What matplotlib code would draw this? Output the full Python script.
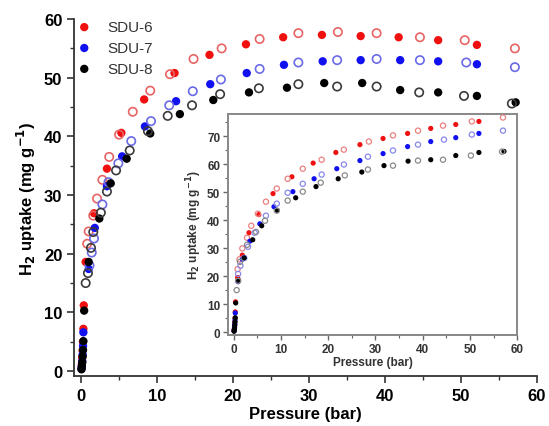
import matplotlib
matplotlib.use("Agg")
import matplotlib.pyplot as plt
from matplotlib.ticker import MultipleLocator

plt.rcParams['font.family'] = ['Liberation Sans', 'DejaVu Sans']

# === DATA: main plot (adsorption = filled, desorption = hollow) ===
labels = ["SDU-6", "SDU-7", "SDU-8"]

sdu6_ads_p = [0.05, 0.1, 0.15, 0.2, 0.25, 0.3, 0.35, 0.6, 1.7, 3.4, 5.3, 8.3, 12.3, 16.9, 21.7, 26.6, 31.7, 36.8, 41.8, 47.0, 52.1]
sdu6_ads_q = [0.5, 1.2, 2.3, 3.5, 5.0, 7.2, 11.2, 18.6, 26.9, 34.5, 40.6, 46.3, 50.8, 53.9, 55.7, 56.9, 57.3, 57.1, 56.9, 56.4, 55.6]
sdu6_des_p = [57.1, 50.5, 44.6, 38.9, 33.8, 28.6, 23.5, 18.5, 14.8, 11.7, 9.1, 6.8, 5.0, 3.7, 2.8, 2.1, 1.6, 1.0, 0.8]
sdu6_des_q = [55.0, 56.4, 56.9, 57.6, 57.8, 57.6, 56.6, 55.0, 53.2, 50.6, 47.8, 44.2, 40.3, 36.5, 32.6, 29.4, 26.5, 23.8, 21.7]

sdu7_ads_p = [0.05, 0.1, 0.15, 0.2, 0.25, 0.3, 1.0, 1.8, 3.4, 5.4, 8.4, 12.5, 17.0, 21.8, 26.7, 31.8, 36.8, 42.0, 47.0, 52.1]
sdu7_ads_q = [0.4, 0.9, 1.7, 2.8, 4.3, 6.6, 17.4, 24.4, 31.5, 36.6, 41.7, 46.0, 48.9, 50.8, 52.2, 52.8, 53.0, 53.0, 52.8, 52.3]
sdu7_des_p = [57.1, 50.7, 44.6, 38.9, 33.7, 28.6, 23.5, 18.4, 14.7, 11.6, 9.2, 6.6, 4.9, 3.6, 2.8, 1.7, 1.4, 1.1]
sdu7_des_q = [51.8, 52.6, 53.0, 53.2, 53.0, 52.6, 51.5, 49.7, 47.7, 45.3, 42.6, 39.2, 35.4, 32.2, 28.4, 22.6, 20.2, 18.0]

sdu8_ads_p = [0.05, 0.1, 0.15, 0.2, 0.25, 0.3, 0.4, 1.0, 2.4, 3.9, 6.0, 9.1, 13.0, 17.4, 22.1, 27.1, 32.0, 37.0, 42.0, 47.0, 52.1, 57.2]
sdu8_ads_q = [0.3, 0.8, 1.5, 2.5, 3.6, 5.1, 10.3, 18.6, 26.0, 32.0, 36.2, 40.5, 43.8, 46.2, 47.5, 48.3, 49.1, 49.1, 47.9, 47.5, 46.9, 45.8]
sdu8_des_p = [56.7, 50.4, 44.5, 38.9, 33.7, 28.6, 23.4, 18.3, 14.6, 11.4, 8.8, 6.4, 4.6, 3.4, 2.6, 1.6, 1.3, 0.9, 0.6]
sdu8_des_q = [45.6, 46.9, 47.5, 48.5, 48.5, 48.9, 48.2, 47.2, 45.3, 43.5, 40.9, 37.6, 34.2, 30.6, 27.0, 23.7, 21.0, 16.7, 15.0]

# === DATA: inset ===
in6_ads_p = [0.05, 0.1, 0.15, 0.2, 0.25, 0.3, 0.35, 0.8, 1.8, 3.2, 5.3, 8.3, 12.3, 16.8, 21.6, 26.7, 31.6, 36.8, 41.7, 47.0, 51.9]
in6_ads_q = [0.5, 1.2, 2.3, 3.5, 5.0, 7.2, 10.8, 19.5, 27.5, 35.5, 42.0, 49.5, 55.5, 60.4, 64.2, 67.0, 69.2, 71.0, 72.8, 74.2, 75.3]
in6_des_p = [57.0, 50.4, 44.3, 39.0, 33.7, 28.6, 23.3, 18.6, 14.6, 11.4, 9.1, 6.8, 5.1, 3.7, 2.8, 1.8, 1.2, 0.8]
in6_des_q = [76.7, 75.3, 73.8, 72.0, 70.3, 68.1, 65.2, 61.6, 58.4, 54.8, 51.3, 46.6, 42.3, 38.0, 33.7, 29.9, 26.0, 22.5]

in7_ads_p = [0.05, 0.1, 0.15, 0.2, 0.25, 0.3, 0.9, 1.8, 3.4, 5.5, 8.5, 12.5, 17.0, 21.8, 26.7, 31.6, 36.8, 41.7, 47.0, 51.9]
in7_ads_q = [0.4, 0.9, 1.7, 2.8, 4.3, 6.8, 18.0, 26.0, 32.5, 38.7, 44.8, 50.2, 54.8, 58.4, 61.3, 63.8, 66.3, 68.1, 69.5, 71.0]
in7_des_p = [57.0, 50.4, 44.5, 39.0, 33.7, 28.4, 23.3, 18.6, 14.6, 11.4, 9.1, 6.8, 4.4, 3.0, 2.2, 1.4, 0.9]
in7_des_q = [72.0, 70.6, 68.8, 67.0, 64.9, 62.7, 59.9, 56.3, 53.0, 49.8, 45.9, 41.6, 35.5, 30.5, 26.5, 23.7, 20.8]

in8_ads_p = [0.05, 0.1, 0.15, 0.2, 0.25, 0.3, 0.4, 1.0, 2.2, 4.0, 5.9, 9.2, 13.1, 17.4, 22.1, 27.1, 31.8, 36.9, 41.7, 47.0, 51.9, 57.2]
in8_ads_q = [0.3, 0.8, 1.5, 2.5, 3.6, 5.1, 10.4, 18.5, 26.5, 33.0, 38.0, 43.5, 48.0, 52.0, 54.8, 57.2, 59.5, 61.1, 61.6, 63.1, 64.2, 64.6]
in8_des_p = [56.8, 50.2, 44.3, 39.0, 33.7, 28.4, 23.5, 18.4, 14.6, 11.4, 9.1, 6.6, 4.7, 2.8, 1.3, 0.9, 0.6]
in8_des_q = [64.5, 63.1, 61.6, 61.3, 59.5, 58.1, 56.0, 53.4, 50.2, 47.0, 43.4, 39.8, 35.8, 31.2, 25.1, 18.3, 15.0]

# === STYLE ===
FILL_COLORS = ["#f01010", "#1010f0", "#000000"]
OPEN_COLORS = ["#e86464", "#6a6ae6", "#3a3a3a"]
INSET_OPEN = ["#ec8080", "#8888ec", "#8a8a8a"]

main_sets = [
    (sdu6_ads_p, sdu6_ads_q, sdu6_des_p, sdu6_des_q),
    (sdu7_ads_p, sdu7_ads_q, sdu7_des_p, sdu7_des_q),
    (sdu8_ads_p, sdu8_ads_q, sdu8_des_p, sdu8_des_q),
]
inset_sets = [
    (in6_ads_p, in6_ads_q, in6_des_p, in6_des_q),
    (in7_ads_p, in7_ads_q, in7_des_p, in7_des_q),
    (in8_ads_p, in8_ads_q, in8_des_p, in8_des_q),
]

fig = plt.figure(figsize=(5.49, 4.27), dpi=100)

# === MAIN AXES ===
ax = fig.add_axes([0.135, 0.117, 0.843, 0.836])
for i, (ap, aq, dp, dq) in enumerate(main_sets):
    ax.scatter(ap, aq, s=36, color=FILL_COLORS[i], edgecolors="none", label=labels[i], zorder=3)
    ax.scatter(dp, dq, s=36, facecolors="none", edgecolors=OPEN_COLORS[i], linewidths=1.2, zorder=3)

ax.set_xlim(-0.92, 60)
ax.set_ylim(-0.85, 60)
ax.spines["top"].set_visible(False)
ax.spines["right"].set_visible(False)
for s in ("left", "bottom"):
    ax.spines[s].set_linewidth(1.3)
    ax.spines[s].set_color("#333333")
ax.xaxis.set_major_locator(MultipleLocator(10))
ax.xaxis.set_minor_locator(MultipleLocator(5))
ax.yaxis.set_major_locator(MultipleLocator(10))
ax.yaxis.set_minor_locator(MultipleLocator(5))
ax.tick_params(which="major", direction="out", length=5, width=1.2, labelsize=12, color="#333333")
ax.tick_params(which="minor", direction="out", length=3, width=1.0, color="#333333")
for t in ax.get_xticklabels() + ax.get_yticklabels():
    t.set_fontweight("bold")
ax.set_xlabel("Pressure (bar)", fontsize=12, fontweight="bold", labelpad=2)
ax.set_ylabel("H$_\\mathbf{2}$ uptake (mg g$^\\mathbf{-1}$)", fontsize=12, fontweight="bold", labelpad=4)

leg = ax.legend(loc="upper left", bbox_to_anchor=(-0.021, 1.027), frameon=False,
                fontsize=11, handletextpad=0.9, labelspacing=0.45, markerscale=1.0,
                handlelength=1.2, borderaxespad=0.3)
for t in leg.get_texts():
    t.set_color("#333333")

# === INSET ===
axin = fig.add_axes([0.415, 0.213, 0.527, 0.518])
for i, (ap, aq, dp, dq) in enumerate(inset_sets):
    axin.scatter(ap, aq, s=14, color=FILL_COLORS[i], edgecolors="none", zorder=3)
    axin.scatter(dp, dq, s=14, facecolors="none", edgecolors=INSET_OPEN[i], linewidths=0.9, zorder=3)

axin.set_xlim(-1.27, 60)
axin.set_ylim(-1.07, 78)
for s in axin.spines.values():
    s.set_linewidth(1.4)
    s.set_color("#888888")
axin.xaxis.set_major_locator(MultipleLocator(10))
axin.xaxis.set_minor_locator(MultipleLocator(5))
axin.yaxis.set_major_locator(MultipleLocator(10))
axin.yaxis.set_minor_locator(MultipleLocator(5))
axin.tick_params(which="major", direction="out", length=3.5, width=1.0, labelsize=8.5, color="#666666", pad=2)
axin.tick_params(which="minor", direction="out", length=2, width=0.8, color="#666666")
for t in axin.get_xticklabels() + axin.get_yticklabels():
    t.set_fontweight("bold")
    t.set_color("#333333")
axin.set_xlabel("Pressure (bar)", fontsize=8.5, fontweight="bold", labelpad=1, color="#333333")
axin.set_ylabel("H$_\\mathbf{2}$ uptake (mg g$^\\mathbf{-1}$)", fontsize=8.5, fontweight="bold", labelpad=2, color="#333333")

fig.savefig("out.png", dpi=100)
